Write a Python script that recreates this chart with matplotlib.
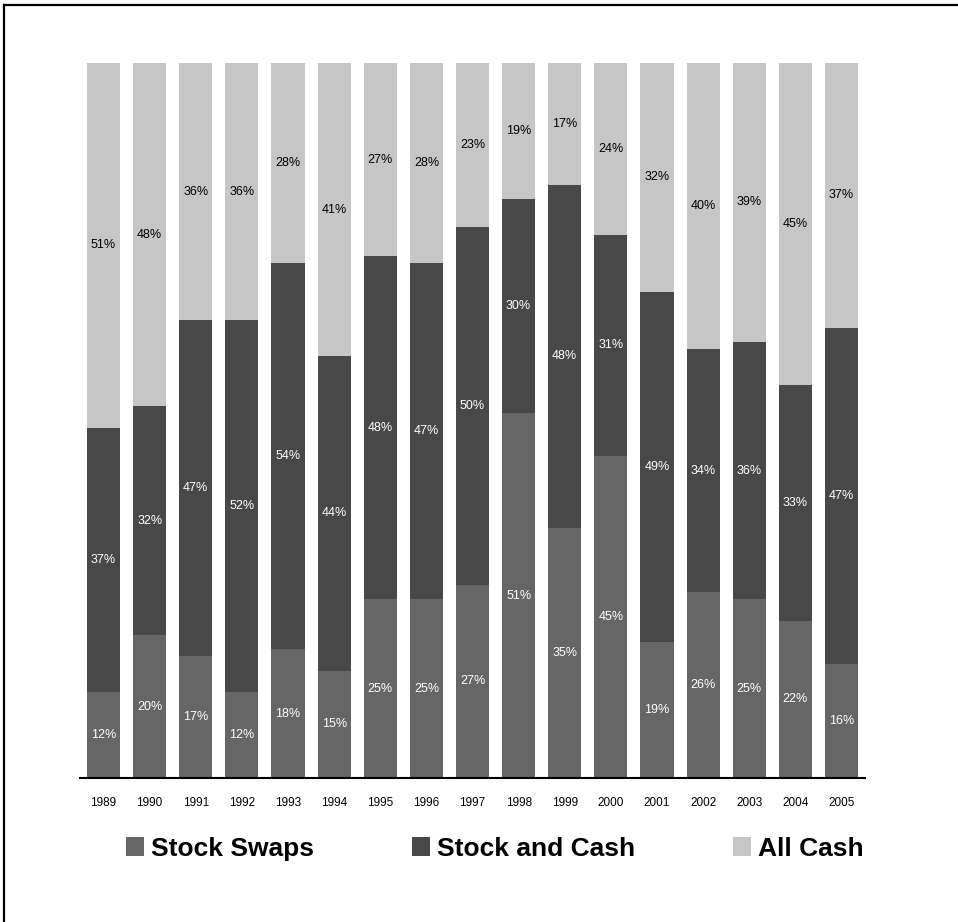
import matplotlib
matplotlib.use('Agg')
import matplotlib.pyplot as plt
from matplotlib.lines import Line2D
import numpy as np

plt.rcParams['font.family'] = ['Liberation Sans', 'DejaVu Sans']

# --- deal mix by year (percent of deals)
years = ['1989', '1990', '1991', '1992', '1993', '1994', '1995', '1996', '1997',
         '1998', '1999', '2000', '2001', '2002', '2003', '2004', '2005']
stock_swaps = [12, 20, 17, 12, 18, 15, 25, 25, 27, 51, 35, 45, 19, 26, 25, 22, 16]
stock_and_cash = [37, 32, 47, 52, 54, 44, 48, 47, 50, 30, 48, 31, 49, 34, 36, 33, 47]
all_cash = [51, 48, 36, 36, 28, 41, 27, 28, 23, 19, 17, 24, 32, 40, 39, 45, 37]

series = [
    ('Stock Swaps', stock_swaps, '#666666', 'white'),
    ('Stock and Cash', stock_and_cash, '#484848', 'white'),
    ('All Cash', all_cash, '#c6c6c6', 'black'),
]

W, H = 958, 922
fig = plt.figure(figsize=(W / 100, H / 100), dpi=100)
ax = fig.add_axes([80 / W, 1 - 778 / H, 785 / W, 715 / H])

x = np.arange(len(years))
bottom = np.zeros(len(years))
for name, vals, color, txt in series:
    vals = np.array(vals, dtype=float)
    ax.bar(x, vals, bottom=bottom, width=0.72, color=color, label=name)
    for xi, b, v in zip(x, bottom, vals):
        ax.text(xi, b + v / 2, f'{int(v)}%', ha='center', va='center',
                fontsize=9, color=txt)
    bottom += vals

ax.set_xlim(-0.51, len(years) - 0.49)
ax.set_ylim(0, 100)
ax.set_xticks(x)
ax.set_xticklabels(years, fontsize=8.5)
ax.tick_params(axis='x', length=0, pad=14)
ax.set_yticks([])
for s in ['top', 'right', 'left']:
    ax.spines[s].set_visible(False)
ax.spines['bottom'].set_linewidth(1.5)

leg = ax.legend(loc='upper left', bbox_to_anchor=(46 / 785, -0.082), ncol=3,
                frameon=False, prop={'size': 19, 'weight': 'bold'},
                handlelength=0.7, handleheight=0.7, handletextpad=0.25,
                columnspacing=3.7, borderpad=0, borderaxespad=0)

# page frame: top and left edges
fig.add_artist(Line2D([4 / W, 1], [1 - 5 / H, 1 - 5 / H], color='black', lw=1.6))
fig.add_artist(Line2D([4 / W, 4 / W], [0, 1 - 5 / H], color='black', lw=1.6))

fig.savefig('out.png', dpi=100)
